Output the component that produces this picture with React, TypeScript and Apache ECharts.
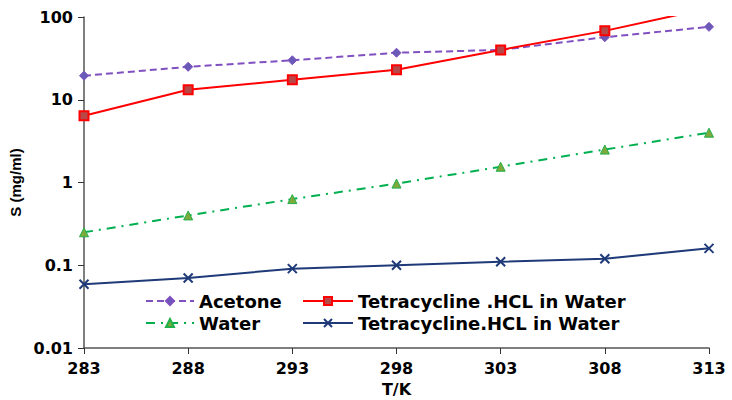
import React, { useEffect, useRef } from "react";
import * as echarts from "echarts";

const temperatures = ["283", "288", "293", "298", "303", "308", "313"];
const acetone = [19.5, 25, 30, 37, 40, 57, 76];
const tetraRed = [6.4, 13.2, 17.4, 23, 40, 68, 128];
const water = [0.25, 0.4, 0.63, 0.97, 1.55, 2.5, 4.0];
const tetraNavy = [0.059, 0.07, 0.091, 0.1, 0.11, 0.12, 0.16];
const yTicks = ["0.01", "0.1", "1", "10", "100"];

const FONT = "'DejaVu Sans', sans-serif";

export default function App() {
  const ref = useRef<HTMLDivElement>(null);
  useEffect(() => {
    if (!ref.current) return;
    const chart = echarts.init(ref.current, null, { renderer: "svg" });
    const textStyle = { fontFamily: FONT, fontWeight: "bold" as const, fontSize: 16, color: "#000" };
    const legendText = { ...textStyle, fontSize: 18 };
    chart.setOption({
      animation: false,
      backgroundColor: "#fff",
      grid: { left: 84, right: 23, top: 17, bottom: 52, outerBoundsMode: "none", containLabel: false },
      legend: [
        {
          data: ["Acetone", "Water"],
          orient: "vertical",
          left: 145,
          top: 292,
          padding: 0,
          itemWidth: 48,
          itemHeight: 10,
          itemGap: 4,
          textStyle: legendText,
        },
        {
          data: ["Tetracycline .HCL in Water", "Tetracycline.HCL in Water"],
          orient: "vertical",
          left: 302,
          top: 292,
          padding: 0,
          itemWidth: 50,
          itemHeight: 10,
          itemGap: 4,
          textStyle: legendText,
        },
      ],
      xAxis: {
        type: "category",
        data: temperatures,
        boundaryGap: false,
        name: "T/K",
        nameLocation: "middle",
        nameGap: 33,
        nameTextStyle: { ...textStyle, fontSize: 16 },
        axisLine: { lineStyle: { color: "#555", width: 1.5 } },
        axisTick: { alignWithLabel: true, length: 6, lineStyle: { color: "#333" } },
        axisLabel: { ...textStyle, margin: 12 },
        splitLine: { show: false },
      },
      yAxis: {
        type: "log",
        logBase: 10,
        min: 0.01,
        max: 100,
        name: "S (mg/ml)",
        nameLocation: "middle",
        nameGap: 60,
        nameTextStyle: {
          fontFamily: "'Liberation Sans', Arial, sans-serif",
          fontWeight: "bold",
          fontSize: 15,
          color: "#000",
        },
        axisLine: { show: true, lineStyle: { color: "#555", width: 1.5 } },
        axisTick: { show: true, length: 6, lineStyle: { color: "#333" } },
        axisLabel: {
          ...textStyle,
          margin: 11,
          formatter: (v: number) => {
            const idx = Math.round(Math.log10(v)) + 2;
            return yTicks[idx] ?? String(v);
          },
        },
        splitLine: { show: false },
      },
      series: [
        {
          name: "Acetone",
          type: "line",
          data: acetone,
          symbol: "diamond",
          symbolSize: 9,
          itemStyle: { color: "#6A5AB8", borderColor: "#7E4FC0", borderWidth: 1 },
          lineStyle: { color: "#8050C0", width: 2, type: [7, 4] },
        },
        {
          name: "Tetracycline .HCL in Water",
          type: "line",
          data: tetraRed,
          clip: true,
          symbol: "rect",
          symbolSize: 9,
          itemStyle: { color: "#B84848", borderColor: "#FF0000", borderWidth: 2 },
          lineStyle: { color: "#FF0000", width: 2 },
        },
        {
          name: "Water",
          type: "line",
          data: water,
          symbol: "triangle",
          symbolSize: 9,
          itemStyle: { color: "#7DAA3A", borderColor: "#22B04A", borderWidth: 1 },
          lineStyle: { color: "#00B050", width: 2, type: [9, 6, 2, 6] },
        },
        {
          name: "Tetracycline.HCL in Water",
          type: "line",
          data: tetraNavy,
          symbol: "path://M0,0L10,10M10,0L0,10",
          symbolSize: 9,
          itemStyle: { color: "#1F3A78", borderColor: "#1F3A78", borderWidth: 2 },
          lineStyle: { color: "#1F3A78", width: 2 },
        },
      ],
    });
    return () => chart.dispose();
  }, []);
  return <div ref={ref} style={{ width: 732, height: 400, position: "absolute", left: 0, top: 0 }} />;
}
